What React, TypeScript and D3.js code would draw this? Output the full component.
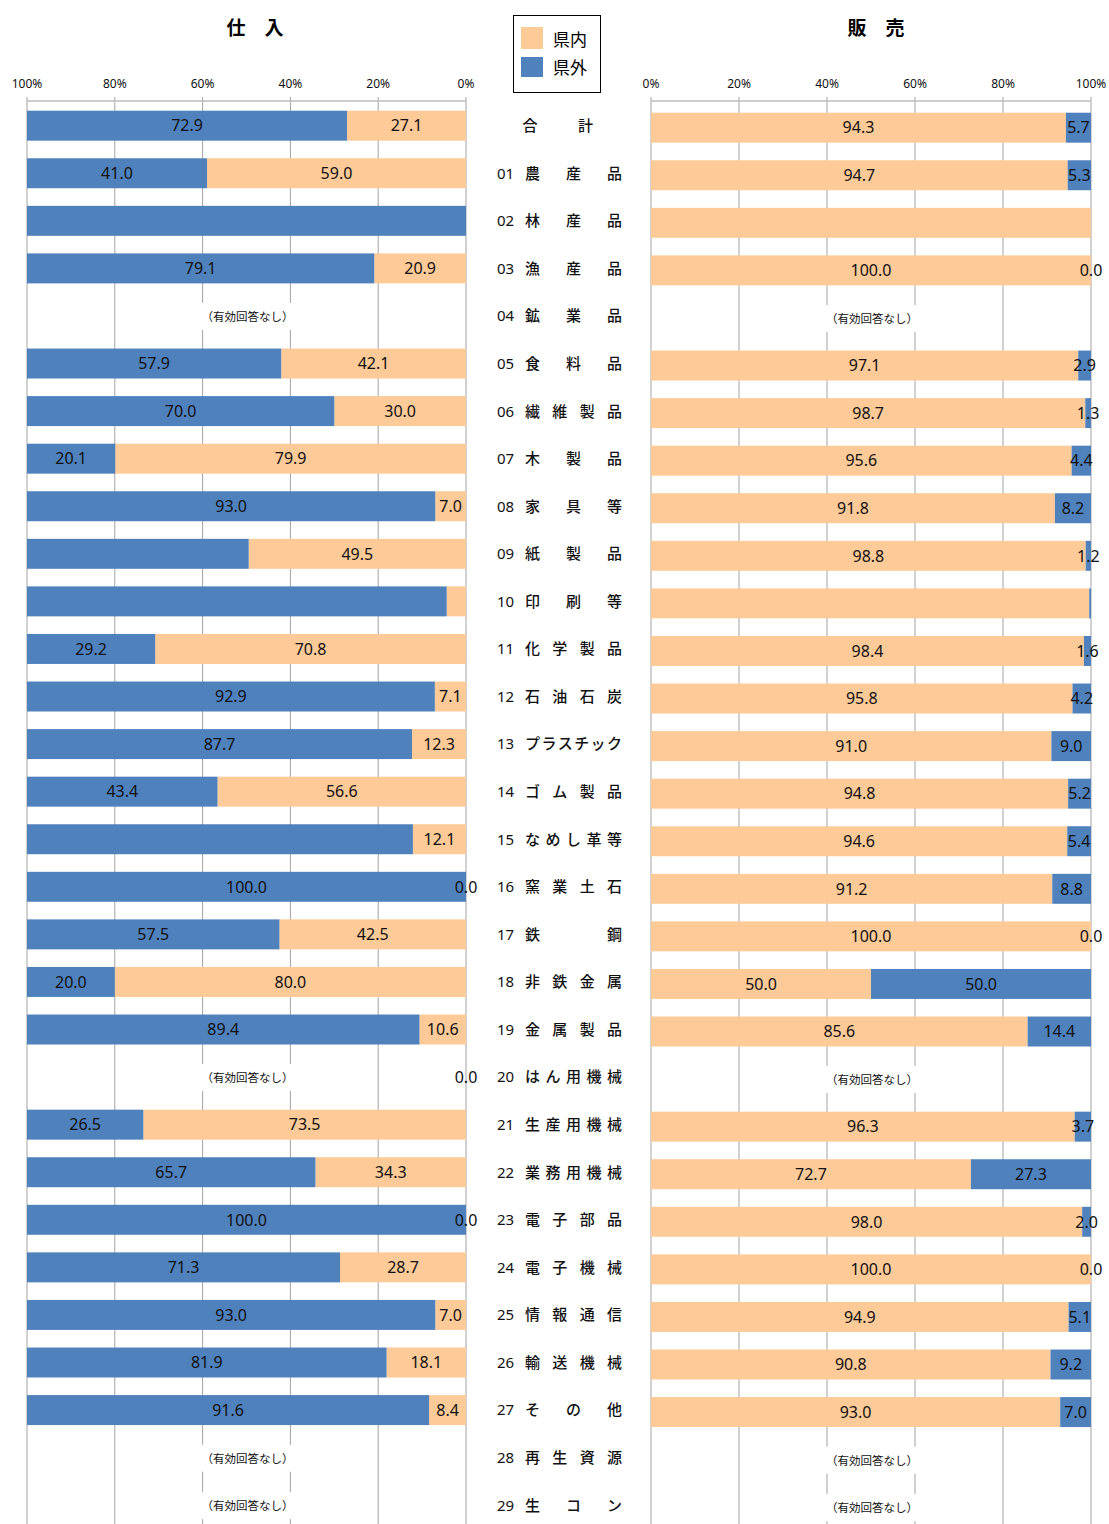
import React from 'react';
import * as d3 from 'd3';

// ---- data ----
const codes = ['', '01', '02', '03', '04', '05', '06', '07', '08', '09', '10', '11', '12', '13', '14', '15', '16', '17', '18', '19', '20', '21', '22', '23', '24', '25', '26', '27', '28', '29'];
const names = ['合計', '農産品', '林産品', '漁産品', '鉱業品', '食料品', '繊維製品', '木製品', '家具等', '紙製品', '印刷等', '化学製品', '石油石炭', 'プラスチック', 'ゴム製品', 'なめし革等', '窯業土石', '鉄鋼', '非鉄金属', '金属製品', 'はん用機械', '生産用機械', '業務用機械', '電子部品', '電子機械', '情報通信', '輸送機械', 'その他', '再生資源', '生コン'];

// 仕入 (purchases)
const buyInside: (number | null)[] = [27.1, 59.0, 0, 20.9, null, 42.1, 30.0, 79.9, 7.0, 49.5, 4.4, 70.8, 7.1, 12.3, 56.6, 12.1, 0.0, 42.5, 80.0, 10.6, 0.0, 73.5, 34.3, 0.0, 28.7, 7.0, 18.1, 8.4, null, null];
const buyOutside: (number | null)[] = [72.9, 41.0, 100, 79.1, null, 57.9, 70.0, 20.1, 93.0, 50.5, 95.6, 29.2, 92.9, 87.7, 43.4, 87.9, 100.0, 57.5, 20.0, 89.4, null, 26.5, 65.7, 100.0, 71.3, 93.0, 81.9, 91.6, null, null];
const buyInsideHidden = ['02', '10'];
const buyOutsideHidden = ['02', '09', '10', '15'];

// 販売 (sales)
const sellInside: (number | null)[] = [94.3, 94.7, 100, 100.0, null, 97.1, 98.7, 95.6, 91.8, 98.8, 99.6, 98.4, 95.8, 91.0, 94.8, 94.6, 91.2, 100.0, 50.0, 85.6, null, 96.3, 72.7, 98.0, 100.0, 94.9, 90.8, 93.0, null, null];
const sellOutside: (number | null)[] = [5.7, 5.3, 0, 0.0, null, 2.9, 1.3, 4.4, 8.2, 1.2, 0.4, 1.6, 4.2, 9.0, 5.2, 5.4, 8.8, 0.0, 50.0, 14.4, null, 3.7, 27.3, 2.0, 0.0, 5.1, 9.2, 7.0, null, null];
const sellInsideHidden = ['02', '10'];
const sellOutsideHidden = ['02', '10'];

const noAnswer = ['04', '20', '28', '29'];
const ticks = [0, 20, 40, 60, 80, 100];
const legendItems = ['県内', '県外'];
const titles = ['仕　入', '販　売'];
const noAnswerText = '（有効回答なし）';

const W = 1109;
const H = 1524;
const ORANGE = '#FDCA98';
const BLUE = '#4F81BD';
const GRID = '#A3A3A3';
const FONT = '"Noto Sans", "Noto Sans CJK JP", sans-serif';
const JFONT = '"Noto Sans CJK JP", "Noto Sans", sans-serif';

const idx = d3.range(codes.length);
const y = d3.scaleBand<number>().domain(idx).range([101.9, 1529.0]).paddingInner(0.37).paddingOuter(0.185);
const xL = d3.scaleLinear().domain([0, 100]).range([466, 27]);
const xR = d3.scaleLinear().domain([0, 100]).range([651, 1091]);

type PanelProps = {
  x: d3.ScaleLinear<number, number>;
  inside: (number | null)[];
  outside: (number | null)[];
  inHidden: string[];
  outHidden: string[];
  dy: number;
  title: string;
  titleX: number;
};

function Panel({ x, inside, outside, inHidden, outHidden, dy, title, titleX }: PanelProps) {
  const bw = y.bandwidth();
  const x0 = x(0);
  const x100 = x(100);
  const mid = (x(40) + x(60)) / 2;
  const items: React.ReactNode[] = [];
  idx.forEach((i) => {
    const yi = (y(i) as number) + dy;
    const cy = yi + bw / 2;
    const vin = inside[i];
    const vout = outside[i];
    if (vin != null) {
      const a = x(0), b = x(vin);
      items.push(<rect key={`in${i}`} x={Math.min(a, b)} y={yi} width={Math.abs(b - a)} height={bw} fill={ORANGE} />);
    }
    if (vout != null) {
      const base = vin ?? 0;
      const a = x(base), b = x(base + vout);
      items.push(<rect key={`out${i}`} x={Math.min(a, b)} y={yi} width={Math.abs(b - a)} height={bw} fill={BLUE} />);
    }
    if (vin != null && !inHidden.includes(codes[i])) {
      items.push(
        <text key={`tin${i}`} x={(x(0) + x(vin)) / 2} y={cy} dy="0.36em" textAnchor="middle" fontSize={16} fill="#111" fontFamily={FONT}>
          {vin.toFixed(1)}
        </text>
      );
    }
    if (vout != null && !outHidden.includes(codes[i])) {
      const base = vin ?? 0;
      items.push(
        <text key={`tout${i}`} x={(x(base) + x(base + vout)) / 2} y={cy} dy="0.36em" textAnchor="middle" fontSize={16} fill="#111" fontFamily={FONT}>
          {vout.toFixed(1)}
        </text>
      );
    }
    if (noAnswer.includes(codes[i])) {
      items.push(
        <g key={`na${i}`}>
          <rect x={mid - 50} y={cy - 13} width={100} height={27} fill="#fff" />
          <text x={mid + 1} y={cy + 1} dy="0.36em" textAnchor="middle" fontSize={11.5} fill="#111" fontFamily={JFONT}>
            {noAnswerText}
          </text>
        </g>
      );
    }
  });
  return (
    <g>
      <text x={titleX} y={35} textAnchor="middle" fontSize={19} fontWeight="bold" fill="#000" fontFamily={JFONT}>
        {title}
      </text>
      {ticks.map((t) => (
        <g key={t}>
          <line x1={x(t)} x2={x(t)} y1={97} y2={H} stroke={GRID} strokeWidth={1} />
          <text x={x(t)} y={88} textAnchor="middle" fontSize={12} fill="#111" fontFamily={FONT}>
            {t}%
          </text>
        </g>
      ))}
      <line x1={Math.min(x0, x100)} x2={Math.max(x0, x100)} y1={101} y2={101} stroke="#BDBDBD" strokeWidth={1.5} />
      {items}
    </g>
  );
}

function Labels() {
  const bw = y.bandwidth();
  return (
    <g fontFamily={JFONT} fontSize={15} fill="#111">
      {idx.map((i) => {
        const cy = (y(i) as number) + bw / 2;
        const chars = Array.from(names[i]);
        const first = codes[i] ? 532.5 : 530;
        const last = codes[i] ? 614.5 : 585.5;
        const n = chars.length;
        return (
          <g key={i}>
            {codes[i] && (
              <text x={497} y={cy} dy="0.36em" fontFamily={FONT} fontWeight="normal">
                {codes[i]}
              </text>
            )}
            {chars.map((c, k) => (
              <text key={k} x={n > 1 ? first + (k * (last - first)) / (n - 1) : first} y={cy} dy="0.36em" textAnchor="middle" fontWeight={500}>
                {c}
              </text>
            ))}
          </g>
        );
      })}
    </g>
  );
}

function Legend() {
  return (
    <g>
      <rect x={513.5} y={15.5} width={87} height={77} fill="#fff" stroke="#000" strokeWidth={1} />
      <rect x={521} y={27} width={22} height={22} fill={ORANGE} />
      <rect x={521} y={57} width={22} height={20} fill={BLUE} />
      <text x={553} y={46} fontSize={17} fill="#000" fontFamily={JFONT}>{legendItems[0]}</text>
      <text x={553} y={74} fontSize={17} fill="#000" fontFamily={JFONT}>{legendItems[1]}</text>
    </g>
  );
}

export default function App() {
  return (
    <svg width={W} height={H} style={{ position: 'absolute', left: 0, top: 0, background: '#fff', display: 'block' }}>
      <rect x={0} y={0} width={W} height={H} fill="#fff" />
      <Panel x={xL} inside={buyInside} outside={buyOutside} inHidden={buyInsideHidden} outHidden={buyOutsideHidden} dy={0} title={titles[0]} titleX={255} />
      <Panel x={xR} inside={sellInside} outside={sellOutside} inHidden={sellInsideHidden} outHidden={sellOutsideHidden} dy={2} title={titles[1]} titleX={876} />
      <Labels />
      <Legend />
    </svg>
  );
}
